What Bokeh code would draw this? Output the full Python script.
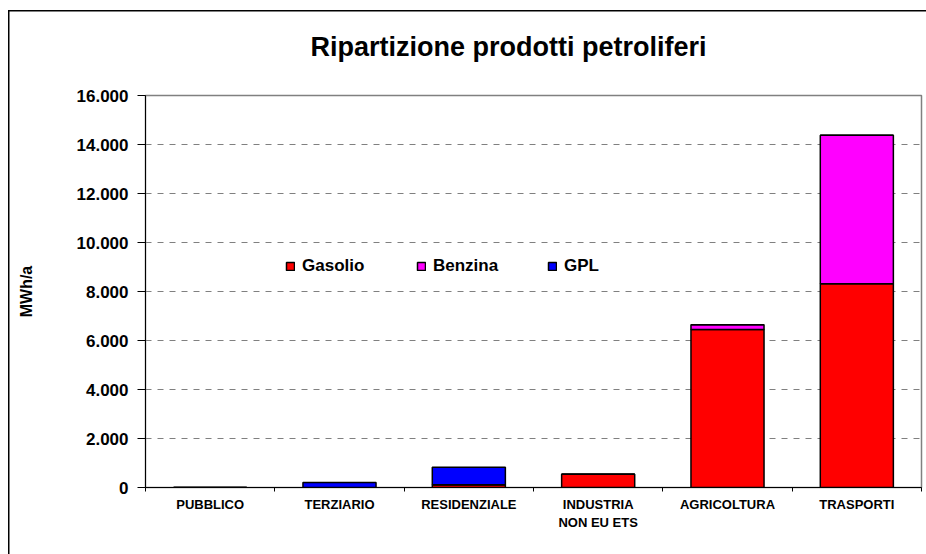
from bokeh.plotting import figure
from bokeh.models import (FixedTicker, Legend, LegendItem, Title, Range1d, ColumnDataSource)
from bokeh.embed import file_html
from bokeh.resources import INLINE

categories = ["PUBBLICO", "TERZIARIO", "RESIDENZIALE", "INDUSTRIA\nNON EU ETS",
              "AGRICOLTURA", "TRASPORTI"]
gasolio = [0, 0, 110, 540, 6450, 8320]
benzina = [0, 0, 0, 0, 190, 6060]
gpl = [0, 200, 720, 0, 0, 0]
series = ["Gasolio", "Benzina", "GPL"]
colors = ["#FF0000", "#FF00FF", "#0000FF"]
y_ticks = [0, 2000, 4000, 6000, 8000, 10000, 12000, 14000, 16000]
y_tick_labels = ["0", "2.000", "4.000", "6.000", "8.000", "10.000", "12.000", "14.000", "16.000"]
title_text = "Ripartizione prodotti petroliferi"

FONT = "Liberation Sans"

xpos = [i + 0.5 for i in range(len(categories))]
source = ColumnDataSource(dict(x=xpos, Gasolio=gasolio, Benzina=benzina, GPL=gpl))

p = figure(width=926, height=554, output_backend="svg", toolbar_location=None,
           x_range=Range1d(0, len(categories)), y_range=Range1d(0, 16000),
           min_border_left=145, min_border_right=5, min_border_top=95,
           min_border_bottom=67, border_fill_color=None)
p.title = None
p.styles = {
    "background": "linear-gradient(black, black) 8px 10px / 1.5px 100% no-repeat, "
                  "linear-gradient(black, black) 8px 10px / 100% 1.5px no-repeat, white"
}

renderers = p.vbar_stack(series, x="x", width=0.565, source=source, color=colors,
                         line_color="black", line_width=1.5)

# spacer between frame and title, then the title itself
spacer = Title(text=" ", text_font=FONT, text_font_size="24px", standoff=0)
p.add_layout(spacer, "above")
title = Title(text=title_text, align="left", offset=165,
              text_font=FONT, text_font_size="27px", text_font_style="bold",
              text_color="black")
p.add_layout(title, "above")

# axes
p.yaxis.ticker = FixedTicker(ticks=y_ticks)
p.yaxis.major_label_overrides = {v: s for v, s in zip(y_ticks, y_tick_labels)}
p.yaxis.major_label_text_font = FONT
p.yaxis.major_label_text_font_size = "17px"
p.yaxis.major_label_text_font_style = "bold"
p.yaxis.major_label_text_color = "black"
p.yaxis.major_tick_out = 8
p.yaxis.major_tick_in = 0
p.yaxis.minor_tick_line_color = None
p.yaxis.major_label_standoff = 9
p.yaxis.axis_line_color = "black"
p.yaxis.axis_label = "MWh/a"
p.yaxis.axis_label_text_font = FONT
p.yaxis.axis_label_text_font_size = "16px"
p.yaxis.axis_label_text_font_style = "bold"
p.yaxis.axis_label_text_color = "black"
p.yaxis.axis_label_standoff = 39

p.xaxis.ticker = FixedTicker(ticks=xpos, minor_ticks=list(range(len(categories) + 1)))
p.xaxis.major_label_overrides = {x: c for x, c in zip(xpos, categories)}
p.xaxis.major_tick_line_color = None
p.xaxis.major_tick_out = 4
p.xaxis.major_tick_in = 0
p.xaxis.minor_tick_out = 4
p.xaxis.minor_tick_in = 0
p.xaxis.minor_tick_line_color = "black"
p.xaxis.major_label_text_font = FONT
p.xaxis.major_label_text_font_size = "13px"
p.xaxis.major_label_text_font_style = "bold"
p.xaxis.major_label_text_color = "black"
p.xaxis.major_label_standoff = 5
p.xaxis.axis_line_color = "black"

# grid
p.xgrid.grid_line_color = None
p.ygrid.ticker = FixedTicker(ticks=y_ticks)
p.ygrid.grid_line_color = "#808080"
p.ygrid.grid_line_dash = "6 6"
p.outline_line_color = "#808080"
p.outline_line_width = 1.5
p.background_fill_color = "white"

# legend
items = [LegendItem(label=s, renderers=[r]) for s, r in zip(series, renderers)]
legend = Legend(items=items, orientation="horizontal", location=(140, 211),
                background_fill_alpha=0, border_line_color=None,
                label_text_font=FONT, label_text_font_size="17px",
                label_text_font_style="bold", label_text_color="black",
                glyph_width=10, glyph_height=10,
                label_width=108, spacing=6, label_standoff=7, padding=0, margin=0)
p.add_layout(legend, "center")

open("out.html", "w").write(file_html(p, INLINE))
